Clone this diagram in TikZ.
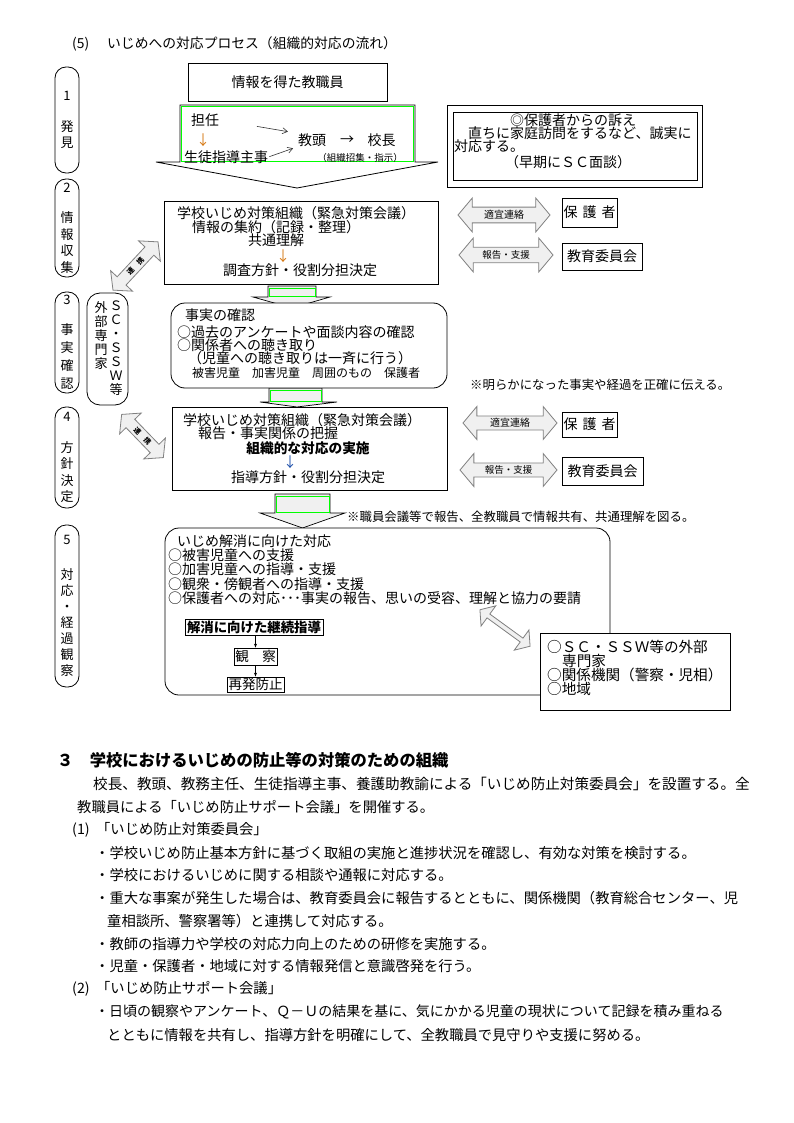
\documentclass[tikz,border=0pt]{standalone}
\usepackage{fontspec}
\setmainfont{Noto Sans CJK JP}
\usepackage{tikz}
\usetikzlibrary{shapes.arrows, arrows.meta, positioning}

\definecolor{arrorange}{RGB}{214,120,20}
\definecolor{arrblue}{RGB}{30,80,170}

\tikzset{
  box/.style={draw, line width=0.8pt, fill=white, inner sep=0pt, font=\fontsize{14}{16}\selectfont},
  rbox/.style={box, rounded corners=14pt},
  stage/.style={draw, line width=0.8pt, rounded corners=11pt, minimum width=24pt, inner sep=0pt,
                align=center, font=\fontsize{13}{16.5}\selectfont},
  col/.style={anchor=north, inner sep=0pt, align=center, font=\fontsize{13}{14}\selectfont},
  txt/.style={anchor=west, inner sep=0pt, font=\fontsize{14}{16}\selectfont},
  ctxt/.style={inner sep=0pt, font=\fontsize{14}{16}\selectfont},
  small/.style={txt, font=\fontsize{12.4}{14}\selectfont},
  body/.style={anchor=west, inner sep=0pt, font=\fontsize{14.3}{16}\selectfont},
  blk/.style={draw, line width=0.7pt, fill=gray!12},
  grn/.style={draw=green, line width=0.8pt},
  dbl/.style={double arrow, draw=gray, line width=0.8pt, fill=gray!12, double arrow tip angle=100,
              inner sep=1pt, font=\fontsize{9.5}{11}\selectfont},
  barb/.style={-{Straight Barb[length=5pt,width=6pt]}, line width=0.6pt, black!80},
  thinarr/.style={-{Stealth[length=4pt,width=3pt]}, line width=0.6pt}
}

\begin{document}
\begin{tikzpicture}[x=1pt, y=-1pt]
  \useasboundingbox (0,0) rectangle (794,1123);

  % title
  \node[txt, font=\fontsize{13.8}{16}\selectfont] (title) at (72,44) {\makebox[35pt][l]{(5)}いじめへの対応プロセス（組織的対応の流れ）};

  % stage labels
  \node[stage, minimum height=106pt] (s1) at (67,120) {1\\[14pt]発\\見};
  \node[stage, minimum height=98pt] (s2) at (67,228) {2\\[14pt]情\\報\\収\\集};
  \node[stage, minimum height=101pt, font=\fontsize{13}{18}\selectfont] (s3) at (67,342.5) {3\\[12pt]事\\実\\確\\認};
  \node[stage, minimum height=101pt] (s4) at (67,457.5) {4\\[14pt]方\\針\\決\\定};
  \node[stage, minimum height=162pt, font=\fontsize{13}{16}\selectfont] (s5) at (67,606) {5\\[19pt]対\\応\\・\\経\\過\\観\\察};

  % --- 1 discovery ---
  \node[box, minimum width=199pt, minimum height=38pt] (staff) at (287.5,82) {情報を得た教職員};
  \draw[line width=0.8pt, fill=white] (180,105) -- (415,105) -- (415,162) -- (438,162)
    -- (297,188) -- (156,162) -- (180,162) -- cycle;
  \draw[grn] (181,106) rectangle (413,161);
  \node[txt] (tannin) at (191,120) {担任};
  \node[ctxt, text=arrorange] (d1) at (203,140) {↓};
  \node[txt] (shidou) at (184,157) {生徒指導主事};
  \node[ctxt] (kyoto) at (312,140) {教頭};
  \node[ctxt] (r1) at (347,140) {→};
  \node[ctxt] (kocho) at (381.5,140) {校長};
  \node[ctxt, font=\fontsize{9.5}{11}\selectfont] (shoshu) at (360,158) {（組織招集・指示）};
  \draw[barb, shorten <=38pt, shorten >=10pt] (tannin.east) -- (kyoto.north west);
  \draw[barb, shorten <=1pt, shorten >=5pt] (shidou.east) -- (kyoto.south west);

  % appeal from parents
  \node[box, minimum width=255pt, minimum height=82pt] (uttae) at (574.5,146) {};
  \node[box, minimum width=244pt, minimum height=68pt] (uttae2) at (575,146) {};
  \node[ctxt] (u1) at (573,120) {◎保護者からの訴え};
  \node[txt] (u2) at (468,133) {直ちに家庭訪問をするなど、誠実に};
  \node[txt] (u3) at (454,146) {対応する。};
  \node[ctxt] (u4) at (568,162) {（早期にＳＣ面談）};

  % --- 2 information ---
  \draw[blk] (268,286) -- (316,286) -- (316,297) -- (330,297) -- (292,308) -- (253,297) -- (268,297) -- cycle;
  \draw[grn] (269,288) rectangle (315,296);
  \node[box, minimum width=274pt, minimum height=83pt] (org2) at (301,242.5) {};
  \node[txt] (o2a) at (177,213) {学校いじめ対策組織（緊急対策会議）};
  \node[txt] (o2b) at (192,227) {情報の集約（記録・整理）};
  \node[ctxt] (o2c) at (276,240) {共通理解};
  \node[ctxt, text=arrorange] (d2) at (283,256) {↓};
  \node[ctxt] (o2d) at (300,270) {調査方針・役割分担決定};

  \node[dbl, minimum height=92pt, minimum width=34pt, double arrow head extend=7pt,
        font=\fontsize{10}{11}\selectfont] (tek2) at (504,215) {適宜連絡};
  \node[box, minimum width=55pt, minimum height=29pt] (hogo2) at (589.5,212.5) {保\hspace{5pt}護\hspace{5pt}者};
  \node[dbl, minimum height=94pt, minimum width=34pt, double arrow head extend=7pt] (hok2) at (506,255) {報告・支援};
  \node[box, minimum width=80pt, minimum height=27pt] (kyoi2) at (602,256.5) {教育委員会};
  \node[dbl, minimum height=66pt, minimum width=30pt, double arrow head extend=7pt, rotate=47,
        font=\bfseries\fontsize{7}{9}\selectfont] (ren2) at (135.5,266) {連\hspace{7.5pt}携};

  % outside experts
  \node[draw, line width=0.8pt, rounded corners=13pt, minimum width=41pt, minimum height=112pt] (gaibu) at (107.5,349) {};
  \node[col] (gaibu1) at (101,301) {外\\部\\専\\門\\家};
  \node[col] (gaibu2) at (116,301) {Ｓ\\Ｃ\\・\\Ｓ\\Ｓ\\Ｗ\\等};

  % --- 3 fact check ---
  \draw[blk] (269,388) -- (322,388) -- (322,402) -- (337,402) -- (297,407) -- (260,402) -- (269,402) -- cycle;
  \draw[grn] (270,390) rectangle (321,401);
  \node[rbox, minimum width=276pt, minimum height=85pt] (fact) at (309,345.5) {};
  \node[txt] (f1) at (185,315) {事実の確認};
  \node[txt] (f2) at (177,332) {○過去のアンケートや面談内容の確認};
  \node[txt] (f3) at (177,345) {○関係者への聴き取り};
  \node[txt] (f4) at (188,358) {（児童への聴き取りは一斉に行う）};
  \node[txt, font=\fontsize{12}{14}\selectfont] (f5) at (192,373) {被害児童　加害児童　周囲のもの　保護者};
  \node[small] (note3) at (470,385) {※明らかになった事実や経過を正確に伝える。};

  % --- 4 policy ---
  \node[box, minimum width=275pt, minimum height=83pt] (org4) at (309.5,448.5) {};
  \node[txt] (o4a) at (183,420) {学校いじめ対策組織（緊急対策会議）};
  \node[txt] (o4b) at (198,433) {報告・事実関係の把握};
  \node[ctxt, font=\bfseries\fontsize{13.7}{16}\selectfont] (o4c) at (308,448) {組織的な対応の実施};
  \node[ctxt, text=arrblue] (d4) at (290,462) {↓};
  \node[ctxt] (o4d) at (308,477) {指導方針・役割分担決定};

  \node[dbl, minimum height=94pt, minimum width=33pt, double arrow head extend=8pt,
        font=\fontsize{10}{11}\selectfont] (tek4) at (510,423) {適宜連絡};
  \node[box, minimum width=55pt, minimum height=25pt] (hogo4) at (589.5,424.5) {保\hspace{5pt}護\hspace{5pt}者};
  \node[dbl, minimum height=97pt, minimum width=33pt, double arrow head extend=8pt] (hok4) at (508.5,470) {報告・支援};
  \node[box, minimum width=81pt, minimum height=28pt] (kyoi4) at (602.5,471) {教育委員会};
  \node[dbl, minimum height=60pt, minimum width=30pt, double arrow head extend=7pt, rotate=-46,
        font=\bfseries\fontsize{7}{9}\selectfont] (ren4) at (142.5,436) {連\hspace{7.5pt}携};

  % --- 5 response ---
  \draw[blk] (275,494) -- (330,494) -- (330,513) -- (345,513) -- (302.5,528) -- (260,513) -- (275,513) -- cycle;
  \draw[grn] (276,496) rectangle (329,512);
  \node[small] (note4) at (347,517) {※職員会議等で報告、全教職員で情報共有、共通理解を図る。};
  \node[rbox, minimum width=445pt, minimum height=167pt] (taio) at (387.5,611.5) {};
  \node[txt] (t1) at (177,541) {いじめ解消に向けた対応};
  \node[txt] (t2) at (168,555) {○被害児童への支援};
  \node[txt] (t3) at (168,569) {○加害児童への指導・支援};
  \node[txt] (t4) at (168,584) {○観衆・傍観者への指導・支援};
  \node[txt] (t5) at (168,598) {○保護者への対応･･･事実の報告、思いの受容、理解と協力の要請};

  \node[box, font=\bfseries\fontsize{13.4}{15}\selectfont, minimum width=138pt, minimum height=16pt] (keizoku) at (254,627) {解消に向けた継続指導};
  \node[box, font=\fontsize{13.5}{15}\selectfont, minimum width=43pt, minimum height=17pt] (kansatsu) at (255.5,656.5) {観　察};
  \node[box, font=\fontsize{13.5}{15}\selectfont, minimum width=57pt, minimum height=15pt] (saihatsu) at (255.5,684.5) {再発防止};
  \draw[thinarr] (kansatsu.north |- keizoku.south) -- (kansatsu.north);
  \draw[thinarr] (kansatsu.south) -- (saihatsu.north);

  \node[dbl, minimum height=62pt, minimum width=25pt, double arrow head extend=6pt, rotate=-36] (ren5) at (505,628) {};
  \node[box, minimum width=190pt, minimum height=77pt] (gaibu5) at (635,671.5) {};
  \node[txt, font=\fontsize{14.6}{16}\selectfont] (g1) at (547,647) {○ＳＣ・ＳＳＷ等の外部};
  \node[txt, font=\fontsize{14.6}{16}\selectfont] (g2) at (562,661) {専門家};
  \node[txt, font=\fontsize{14.6}{16}\selectfont] (g3) at (547,675) {○関係機関（警察・児相）};
  \node[txt, font=\fontsize{14.6}{16}\selectfont] (g4) at (547,689) {○地域};

  % --- section 3 ---
  \node[body, font=\bfseries\fontsize{16.3}{18}\selectfont] (h3) at (57,760) {３　学校におけるいじめの防止等の対策のための組織};
  \node[body, font=\fontsize{14.6}{16}\selectfont] (p1) at (93,784) {校長、教頭、教務主任、生徒指導主事、養護助教諭による「いじめ防止対策委員会」を設置する。全};
  \node[body] (p2) at (77,807) {教職員による「いじめ防止サポート会議」を開催する。};
  \node[body] (p3) at (72,830) {\makebox[24pt][l]{(1)}「いじめ防止対策委員会」};
  \node[body] (p4) at (95,853) {・学校いじめ防止基本方針に基づく取組の実施と進捗状況を確認し、有効な対策を検討する。};
  \node[body] (p5) at (95,875) {・学校におけるいじめに関する相談や通報に対応する。};
  \node[body] (p6) at (95,898) {・重大な事案が発生した場合は、教育委員会に報告するとともに、関係機関（教育総合センター、児};
  \node[body] (p7) at (107,921) {童相談所、警察署等）と連携して対応する。};
  \node[body] (p8) at (95,944) {・教師の指導力や学校の対応力向上のための研修を実施する。};
  \node[body] (p9) at (95,966) {・児童・保護者・地域に対する情報発信と意識啓発を行う。};
  \node[body] (p10) at (72,989) {\makebox[24pt][l]{(2)}「いじめ防止サポート会議」};
  \node[body, font=\fontsize{14}{16}\selectfont] (p11) at (95,1012) {・日頃の観察やアンケート、Ｑ－Ｕの結果を基に、気にかかる児童の現状について記録を積み重ねる};
  \node[body] (p12) at (107,1035) {とともに情報を共有し、指導方針を明確にして、全教職員で見守りや支援に努める。};
\end{tikzpicture}
\end{document}
